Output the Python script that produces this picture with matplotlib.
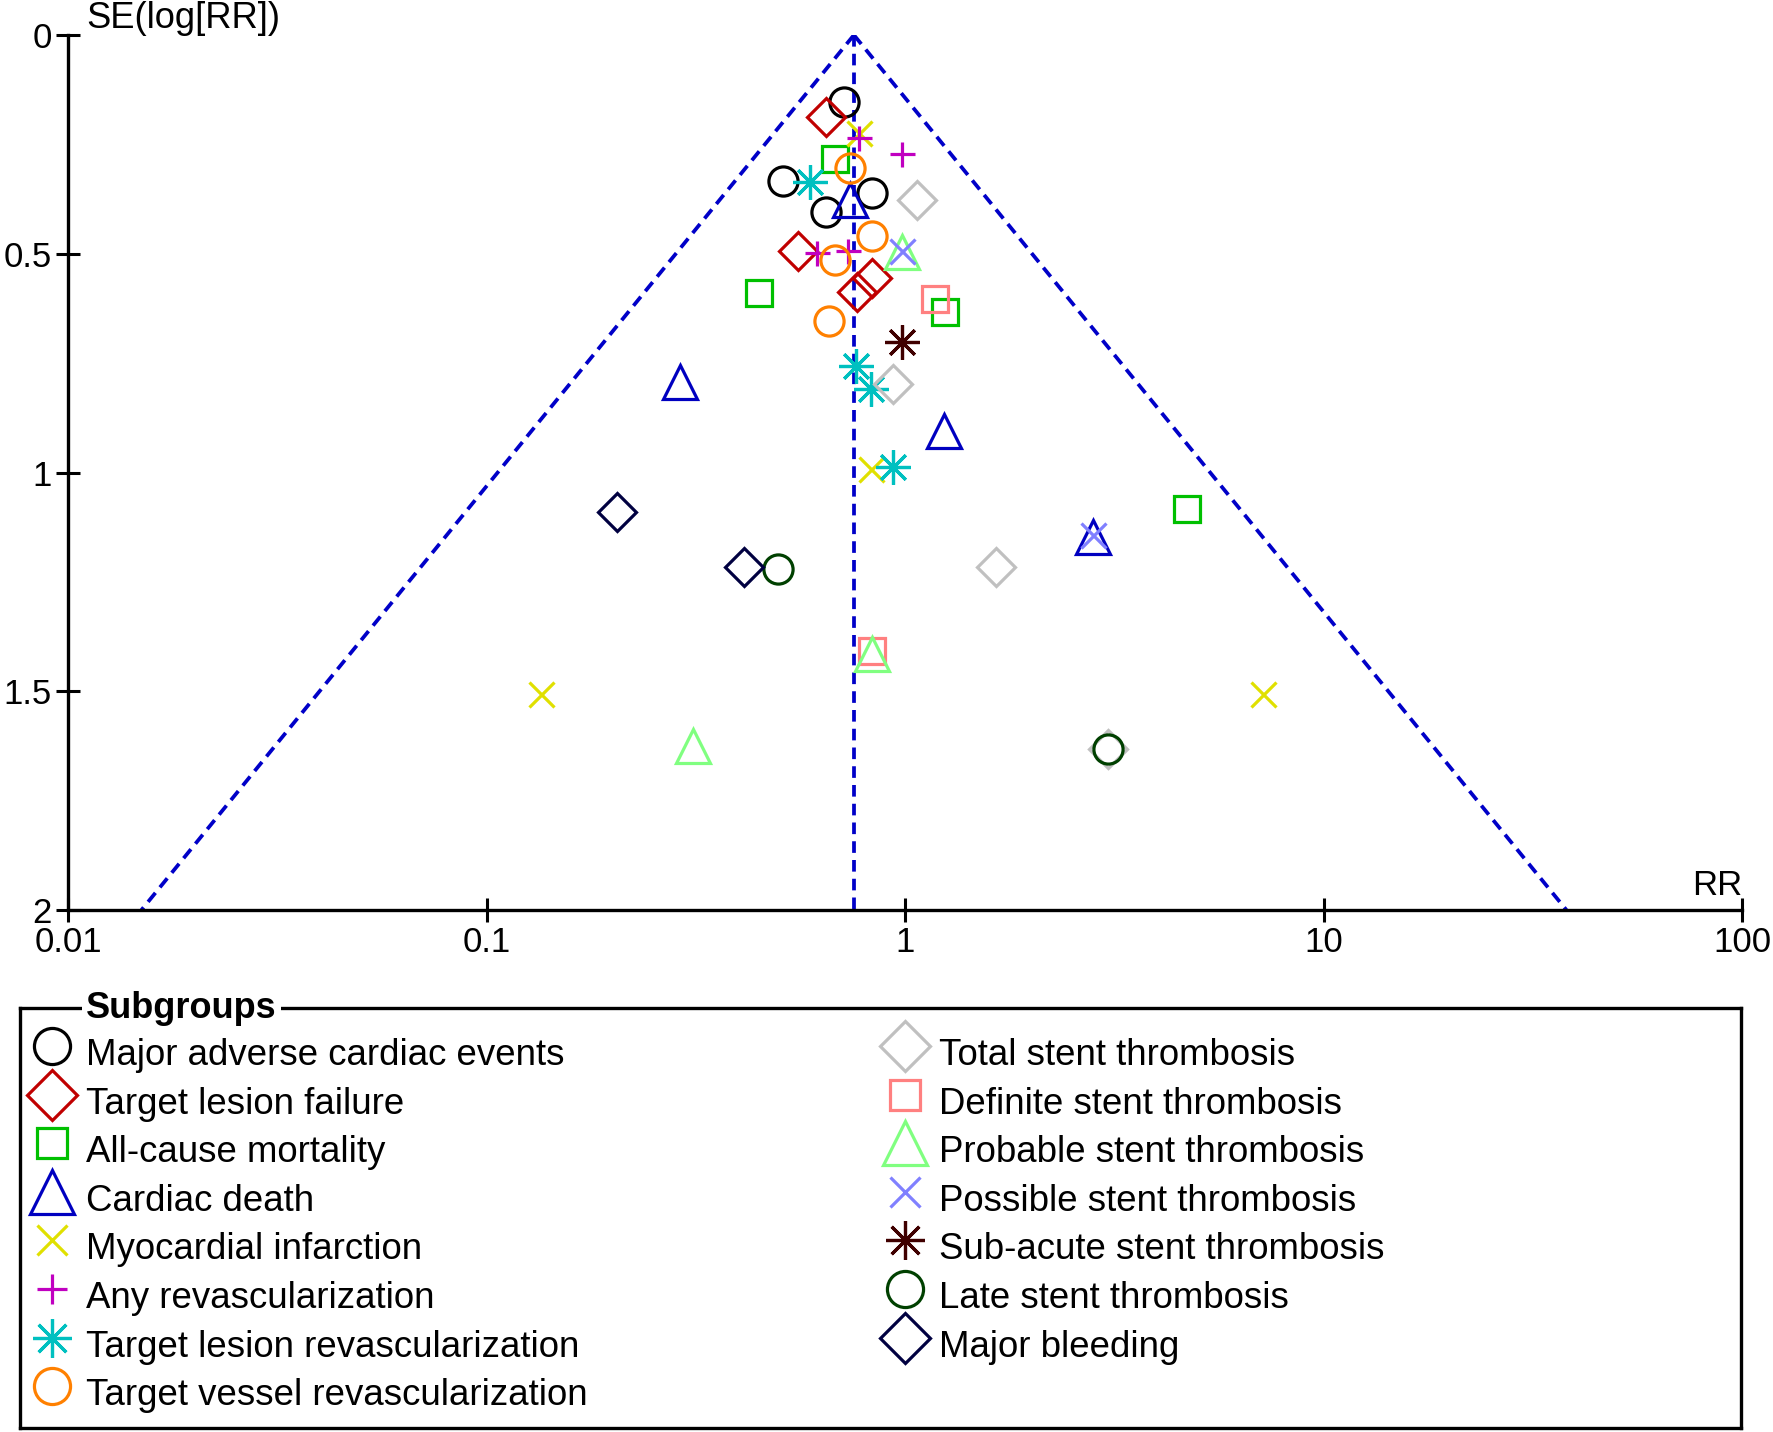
import numpy as np
import matplotlib
matplotlib.use("Agg")
import matplotlib.pyplot as plt

plt.rcParams['font.family'] = ['Liberation Sans', 'DejaVu Sans']

# ---------------- data (RR, SE(log RR)) ----------------
pooled_rr = 0.755

mace_rr = [0.716, 0.512, 0.647, 0.833]
mace_se = [0.152, 0.333, 0.404, 0.360]
tlf_rr = [0.647, 0.556, 0.833, 0.767]
tlf_se = [0.188, 0.494, 0.556, 0.587]
acm_rr = [0.681, 0.449, 1.246, 4.73]
acm_se = [0.284, 0.590, 0.632, 1.084]
cd_rr = [0.740, 0.290, 1.241, 2.82]
cd_se = [0.377, 0.794, 0.904, 1.147]
mi_rr = [0.778, 0.829, 0.1347, 7.18]
mi_se = [0.223, 0.993, 1.506, 1.506]
ar_rr = [0.778, 0.983, 0.615, 0.730]
ar_se = [0.236, 0.272, 0.499, 0.493]
tlr_rr = [0.593, 0.764, 0.829, 0.935]
tlr_se = [0.335, 0.757, 0.808, 0.987]
tvr_rr = [0.740, 0.833, 0.681, 0.659]
tvr_se = [0.305, 0.459, 0.514, 0.653]
tst_rr = [1.067, 0.935, 1.650, 3.06]
tst_se = [0.376, 0.798, 1.215, 1.632]
dst_rr = [1.18, 0.833]
dst_se = [0.604, 1.409]
pst_rr = [0.983, 0.835, 0.311]
pst_se = [0.497, 1.414, 1.626]
post_rr = [0.983, 2.82]
post_se = [0.493, 1.143]
sast_rr = [0.983]
sast_se = [0.701]
lst_rr = [0.497, 3.06]
lst_se = [1.221, 1.632]
mb_rr = [0.205, 0.412]
mb_se = [1.091, 1.215]

group_names = [
    "Major adverse cardiac events", "Target lesion failure", "All-cause mortality",
    "Cardiac death", "Myocardial infarction", "Any revascularization",
    "Target lesion revascularization", "Target vessel revascularization",
    "Total stent thrombosis", "Definite stent thrombosis", "Probable stent thrombosis",
    "Possible stent thrombosis", "Sub-acute stent thrombosis", "Late stent thrombosis",
    "Major bleeding",
]
group_rr = [mace_rr, tlf_rr, acm_rr, cd_rr, mi_rr, ar_rr, tlr_rr, tvr_rr,
            tst_rr, dst_rr, pst_rr, post_rr, sast_rr, lst_rr, mb_rr]
group_se = [mace_se, tlf_se, acm_se, cd_se, mi_se, ar_se, tlr_se, tvr_se,
            tst_se, dst_se, pst_se, post_se, sast_se, lst_se, mb_se]

x_ticks = [0.01, 0.1, 1, 10, 100]
x_ticklabels = ["0.01", "0.1", "1", "10", "100"]
y_ticks = [0, 0.5, 1, 1.5, 2]
y_ticklabels = ["0", "0.5", "1", "1.5", "2"]

# ---------------- styles ----------------
colors = ["#000000", "#C00000", "#00C000", "#0000C0", "#E0E000", "#C000C0",
          "#00C0C0", "#FF8000", "#C0C0C0", "#FF8080", "#80FF80", "#8080FF",
          "#400000", "#004000", "#000040"]
AST = (8, 2, 0)
markers = ["o", "D", "s", "^", "x", "+", AST, "o",
           "D", "s", "^", "x", AST, "o", "D"]
plot_ms = {"o": 21, "D": 19, "s": 19, "^": 25, "x": 18, "+": 18, "ast": 25}
leg_ms = {"o": 26, "D": 25, "s": 22, "^": 32, "x": 22, "+": 22, "ast": 28}

def key(m):
    return m if isinstance(m, str) else "ast"

W, H = 1773, 1432
fig = plt.figure(figsize=(W / 100, H / 100), dpi=100)

ax_l, ax_r, ax_t, ax_b = 68, 1742, 35, 910
ax = fig.add_axes([ax_l / W, 1 - ax_b / H, (ax_r - ax_l) / W, (ax_b - ax_t) / H])
ax.set_xscale("log")
ax.set_xlim(0.01, 100)
ax.set_ylim(2, 0)

# funnel
se_line = np.array([0, 2.0])
blue = "#0000C8"
dash = (0, (3.1, 1.9))
ax.plot(pooled_rr * np.exp(-1.96 * se_line), se_line, ls=dash, color=blue, lw=2.7, zorder=1)
ax.plot(pooled_rr * np.exp(1.96 * se_line), se_line, ls=dash, color=blue, lw=2.7, zorder=1)
ax.plot([pooled_rr, pooled_rr], se_line, ls=dash, color=blue, lw=2.7, zorder=1)

for rr, se, c, m in zip(group_rr, group_se, colors, markers):
    ax.plot(rr, se, ls="none", marker=m, ms=plot_ms[key(m)], mfc="none", mec=c, mew=2.3,
            clip_on=False, zorder=3)

for s in ["top", "right"]:
    ax.spines[s].set_visible(False)
for s in ["left", "bottom"]:
    ax.spines[s].set_linewidth(2.4)

ax.set_xticks(x_ticks)
ax.set_xticklabels(x_ticklabels)
ax.set_yticks(y_ticks)
ax.set_yticklabels(y_ticklabels)
ax.minorticks_off()
ax.tick_params(axis="both", direction="inout", length=17, width=2.2, labelsize=25)
ax.tick_params(axis="y", pad=3)
ax.tick_params(axis="x", pad=3)

ax.text((86 - ax_l) / (ax_r - ax_l), 1 + (ax_t - 19) / (ax_b - ax_t), "SE(log[RR])",
        transform=ax.transAxes, fontsize=26.2, ha="left", va="center")
ax.text(1.0, (ax_b - 895) / (ax_b - ax_t), "RR", transform=ax.transAxes,
        fontsize=25, ha="right", va="baseline")

# ---------------- legend box ----------------
lg_l, lg_r, lg_t, lg_b = 20, 1741, 1008, 1428
lax = fig.add_axes([lg_l / W, 1 - lg_b / H, (lg_r - lg_l) / W, (lg_b - lg_t) / H])
lax.set_xlim(0, lg_r - lg_l)
lax.set_ylim(lg_b - lg_t, 0)
lax.set_xticks([])
lax.set_yticks([])
for s in lax.spines.values():
    s.set_linewidth(2.4)
lax.patch.set_alpha(0)

lax.text(86 - lg_l, 1018 - lg_t, "Subgroups", fontsize=26, fontweight="bold",
         ha="left", va="baseline", zorder=5,
         bbox=dict(facecolor="white", edgecolor="none", pad=3))

row_step = 48.6
col_marker_x = [52 - lg_l, 905 - lg_l]
col_text_x = [86 - lg_l, 939 - lg_l]
for i, (name, c, m) in enumerate(zip(group_names, colors, markers)):
    col = 0 if i < 8 else 1
    row = i if i < 8 else i - 8
    my = 1046 - lg_t + row * row_step
    ty = 1065 - lg_t + row * row_step
    lax.plot([col_marker_x[col]], [my], ls="none", marker=m, ms=leg_ms[key(m)], mfc="none",
             mec=c, mew=2.3, clip_on=False)
    lax.text(col_text_x[col], ty, name, fontsize=26.4, ha="left", va="baseline")

fig.savefig("out.png", dpi=100)
